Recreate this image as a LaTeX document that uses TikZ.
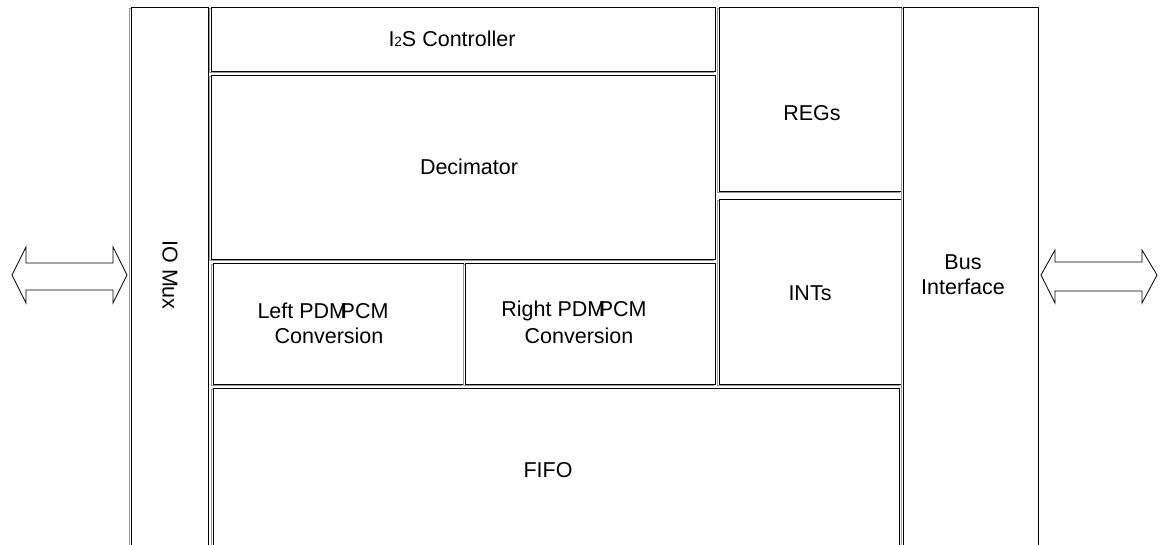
\documentclass[tikz,border=0pt]{standalone}
\usepackage{fontspec}
\setmainfont{Liberation Sans}
\usetikzlibrary{shadows}
\begin{document}
\begin{tikzpicture}[x=1pt,y=-1pt,
  blk/.style={draw=black, line width=0.9pt, inner sep=0pt, fill=white,
    general shadow={shadow xshift=-1.4pt, shadow yshift=-1.4pt, draw=gray!80, line width=1pt, fill=none}},
  lbl/.style={inner sep=0pt, font=\fontsize{21.5}{25}\selectfont, align=center},
  dbl/.style={draw=black, line width=0.8pt, fill=white, line join=miter}]
\useasboundingbox (0,0) rectangle (1161,544);
\clip (0,0) rectangle (1161,544);
% blocks
\node[blk, minimum width=77pt, minimum height=545pt] (iomux) at (169.5,279.5) {};
\node[blk, minimum width=504pt, minimum height=64pt] (i2s) at (463,39) {};
\node[blk, minimum width=504pt, minimum height=184pt] (dec) at (463,167) {};
\node[blk, minimum width=250pt, minimum height=121pt] (left) at (338,323.5) {};
\node[blk, minimum width=250pt, minimum height=121pt] (right) at (590,323.5) {};
\node[blk, minimum width=686pt, minimum height=164pt] (fifo) at (556,470) {};
\node[blk, minimum width=182pt, minimum height=184pt] (regs) at (810,99) {};
\node[blk, minimum width=182pt, minimum height=185pt] (ints) at (810,291.5) {};
\node[blk, minimum width=135pt, minimum height=545pt] (bus) at (970.5,279.5) {};
% labels
\node[lbl, rotate=-90] (iomuxt) at (170,275) {IO Mux};
\node[lbl] (i2st) at (452,39) {I{\fontsize{13.5}{15}\selectfont 2}S Controller};
\node[lbl] (dect) at (469,167) {Decimator};
\node[lbl] (leftt1) at (323,311) {Left PDM\kern-0.3em PCM};
\node[lbl] (leftt2) at (329,336) {Conversion};
\node[lbl] (rightt1) at (574,311) {Right PDM\kern-0.3em PCM};
\node[lbl] (rightt2) at (579,336) {Conversion};
\node[lbl] (fifot) at (548,470) {FIFO};
\node[lbl] (regst) at (812,113) {REGs};
\node[lbl] (intst) at (810,293) {INTs};
\node[lbl] (bust) at (963,275) {Bus\\Interface};
% double arrows
\coordinate (la) at (12,275);
\coordinate (ra) at (1041,275);
\draw[dbl] (la) -- ++(14,-28) -- ++(0,16) -- ++(87,0) -- ++(0,-16) -- ++(14,28)
  -- ++(-14,28) -- ++(0,-13) -- ++(-87,0) -- ++(0,13) -- cycle;
\draw[dbl] (ra) -- ++(14,-25) -- ++(0,12) -- ++(87,0) -- ++(0,-12) -- ++(15,25)
  -- ++(-15,28) -- ++(0,-12) -- ++(-87,0) -- ++(0,12) -- cycle;
\end{tikzpicture}
\end{document}
